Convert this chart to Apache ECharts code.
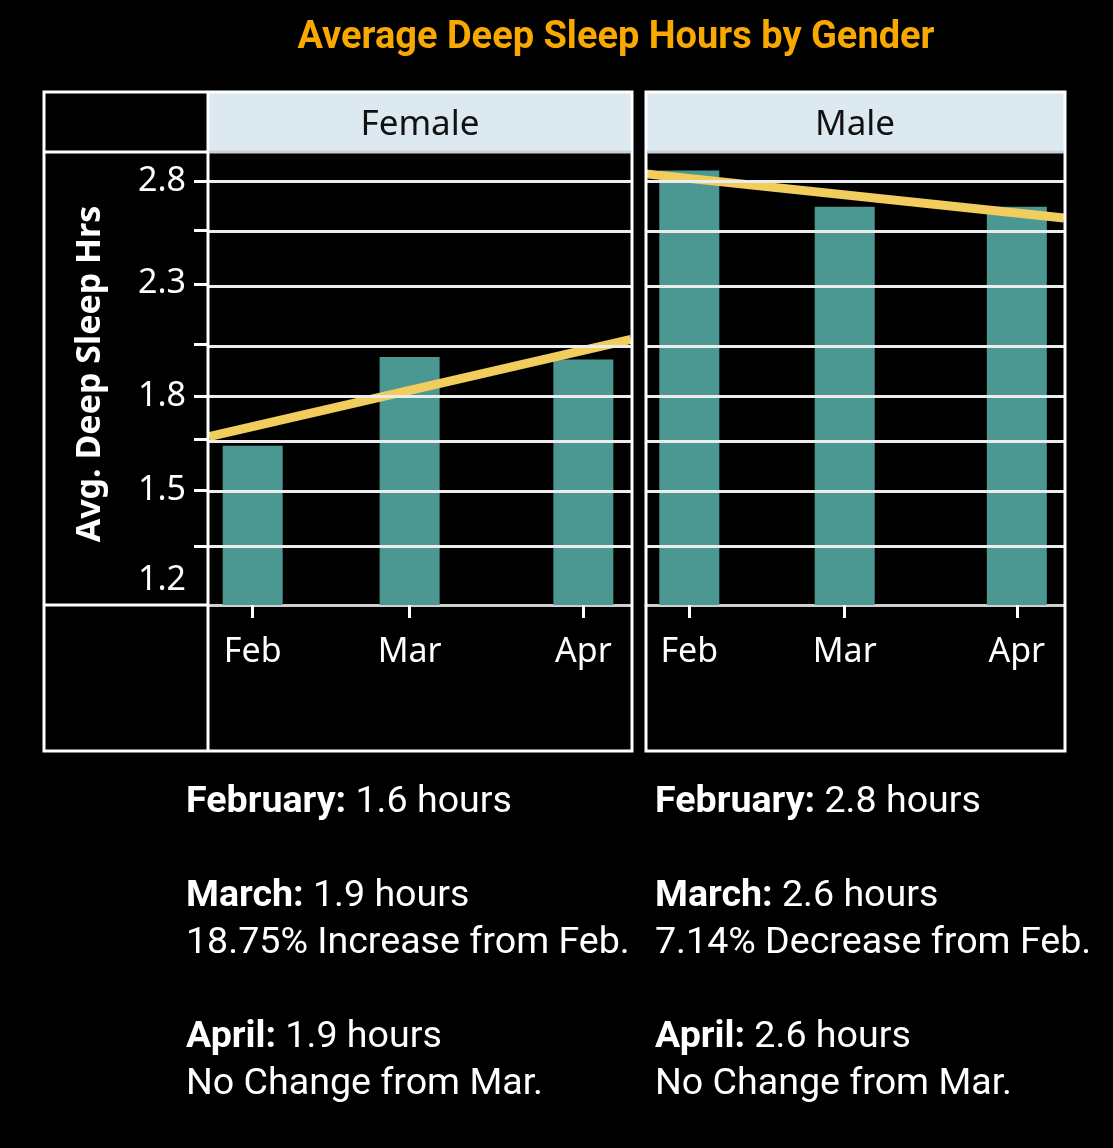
<!DOCTYPE html>
<html>
<head>
<meta charset="utf-8">
<script src="https://cdn.jsdelivr.net/npm/echarts@6/dist/echarts.min.js"></script>
<style>
html,body{margin:0;padding:0;background:#000;}
#chart{width:1113px;height:1148px;}
</style>
</head>
<body>
<div id="chart"></div>
<script>
// ---- data ----
const months = ['Feb', 'Mar', 'Apr'];
const monthDay = [0, 28, 59];            // days since 1 Feb (continuous month axis)
const femaleHours = [1.65, 1.97, 1.96];
const maleHours = [2.86, 2.66, 2.66];
const femaleTrend = [1.68, 2.04];        // trend line at left / right edge of panel
const maleTrend = [2.84, 2.60];
const gridTicks = [2.8, 2.54, 2.28, 2.02, 1.82, 1.67, 1.51, 1.35];
const labelTicks = [2.8, 2.28, 1.82, 1.51, 1.2];
const yMin = 1.2, yMax = 2.967;
const xMin = -7.8, xMax = 67.5;
const noteMonths = ['February', 'March', 'April'];
const femaleRounded = [1.6, 1.9, 1.9];
const maleRounded = [2.8, 2.6, 2.6];
const femaleChange = ['', '18.75% Increase from Feb.', 'No Change from Mar.'];
const maleChange = ['', '7.14% Decrease from Feb.', 'No Change from Mar.'];

// ---- styles ----
const BAR = '#4b9893', TREND = '#f1cd5d', HEAD = '#dce9f0', GRIDC = '#ececec';
const AXF = '"Noto Sans", "DejaVu Sans", sans-serif';
const ROB = 'Roboto, "Noto Sans", sans-serif';
const L = Math.log;

function notes(rounded, change) {
  const parts = [];
  for (let i = 0; i < noteMonths.length; i++) {
    let s = '{b|' + noteMonths[i] + ':} ' + rounded[i] + ' hours';
    if (change[i]) s += '\n' + change[i];
    parts.push(s);
  }
  return parts.join('\n\n');
}

function xAxisDef(idx) {
  return {
    type: 'value', gridIndex: idx, min: xMin, max: xMax,
    axisLine: { show: true, onZero: false, lineStyle: { color: '#cfcfcf', width: 3 } },
    axisTick: { show: true, customValues: monthDay, length: 13, lineStyle: { color: '#ffffff', width: 3 } },
    axisLabel: {
      show: true, customValues: monthDay, margin: 30, color: '#ffffff', fontSize: 34, fontFamily: AXF,
      formatter: function (v) { const i = monthDay.indexOf(v); return i >= 0 ? months[i] : ''; }
    },
    splitLine: { show: false }
  };
}

function yAxisDef(idx, showLabels) {
  return {
    type: 'value', gridIndex: idx, min: L(yMin), max: L(yMax),
    axisLine: { show: false, onZero: false },
    axisTick: showLabels ? { show: true, customValues: gridTicks.map(L), length: 15, lineStyle: { color: '#ffffff', width: 3 } } : { show: false },
    axisLabel: showLabels ? {
      show: true, customValues: labelTicks.map(L), margin: 23, color: '#ffffff', fontSize: 34, fontFamily: AXF,
      formatter: function (v) {
        const t = Math.exp(v).toFixed(1);
        if (Math.abs(v - L(yMin)) < 1e-6) return '{m|' + t + '}';
        return t;
      },
      rich: { m: { color: '#ffffff', fontSize: 34, fontFamily: AXF, padding: [0, 0, 50, 0] } }
    } : { show: false },
    splitLine: { show: false }
  };
}

function gridLineSeries(idx) {
  return {
    type: 'line', xAxisIndex: idx, yAxisIndex: idx, data: [], z: 1, silent: true,
    markLine: {
      silent: true, symbol: 'none', animation: false,
      label: { show: false },
      lineStyle: { color: GRIDC, width: 3, type: 'solid' },
      data: gridTicks.map(function (t) { return { yAxis: L(t) }; })
    }
  };
}

function barSeries(idx, vals) {
  return {
    type: 'bar', xAxisIndex: idx, yAxisIndex: idx, z: 2, barWidth: 60,
    itemStyle: { color: BAR },
    data: monthDay.map(function (d, i) { return [d, L(vals[i])]; })
  };
}

function trendSeries(idx, tr) {
  return {
    type: 'line', xAxisIndex: idx, yAxisIndex: idx, z: 3, symbol: 'none', silent: true,
    lineStyle: { color: TREND, width: 9 },
    data: [[xMin, L(tr[0])], [xMax, L(tr[1])]]
  };
}

const W = '#ffffff';
function line(x1, y1, x2, y2, color, w) {
  return { type: 'line', shape: { x1: x1, y1: y1, x2: x2, y2: y2 }, style: { stroke: color, lineWidth: w || 3 }, z: 10 };
}

const graphics = [
  // title
  { type: 'text', x: 616, y: 38, style: { text: 'Average Deep Sleep Hours by Gender', fill: '#f9a800', font: 'bold 38px ' + ROB, textAlign: 'center', textVerticalAlign: 'middle' } },
  // header boxes
  { type: 'rect', shape: { x: 209, y: 93, width: 422, height: 58 }, style: { fill: HEAD } },
  { type: 'rect', shape: { x: 647, y: 93, width: 417, height: 58 }, style: { fill: HEAD } },
  { type: 'text', x: 420, y: 125, style: { text: 'Female', fill: '#111111', font: '35px ' + AXF, textAlign: 'center', textVerticalAlign: 'middle' } },
  { type: 'text', x: 855, y: 125, style: { text: 'Male', fill: '#111111', font: '35px ' + AXF, textAlign: 'center', textVerticalAlign: 'middle' } },
  // frames
  { type: 'rect', shape: { x: 44, y: 92, width: 588, height: 659 }, style: { fill: null, stroke: W, lineWidth: 3 }, z: 10 },
  { type: 'rect', shape: { x: 646, y: 92, width: 419, height: 659 }, style: { fill: null, stroke: W, lineWidth: 3 }, z: 10 },
  line(208, 92, 208, 751, W, 3),
  line(44, 152, 208, 152, W, 3),
  line(44, 605, 208, 605, W, 3),
  line(209, 152, 631, 152, '#cfcfcf', 3),
  line(647, 152, 1064, 152, '#cfcfcf', 3),
  // y axis title
  { type: 'text', x: 90, y: 374, rotation: Math.PI / 2, style: { text: 'Avg. Deep Sleep Hrs', fill: W, font: 'bold 34px ' + AXF, textAlign: 'center', textVerticalAlign: 'middle' } },
  // notes
  { type: 'text', x: 186, y: 779, style: { text: notes(femaleRounded, femaleChange), fill: W, font: '37.6px ' + ROB, lineHeight: 47, rich: { b: { fontWeight: 'bold', fontSize: 37.6, fontFamily: ROB, fill: W, lineHeight: 47 } } } },
  { type: 'text', x: 655, y: 779, style: { text: notes(maleRounded, maleChange), fill: W, font: '37.6px ' + ROB, lineHeight: 47, rich: { b: { fontWeight: 'bold', fontSize: 37.6, fontFamily: ROB, fill: W, lineHeight: 47 } } } }
];

const option = {
  backgroundColor: '#000000',
  animation: false,
  grid: [
    { left: 209, right: 1113 - 631, top: 152, bottom: 1148 - 605, containLabel: false },
    { left: 646, right: 1113 - 1064, top: 152, bottom: 1148 - 605, containLabel: false }
  ],
  xAxis: [xAxisDef(0), xAxisDef(1)],
  yAxis: [yAxisDef(0, true), yAxisDef(1, false)],
  series: [
    gridLineSeries(0), gridLineSeries(1),
    barSeries(0, femaleHours), barSeries(1, maleHours),
    trendSeries(0, femaleTrend), trendSeries(1, maleTrend)
  ],
  graphic: graphics
};

const chart = echarts.init(document.getElementById('chart'), null, { renderer: 'canvas' });
chart.setOption(option);
</script>
</body>
</html>
